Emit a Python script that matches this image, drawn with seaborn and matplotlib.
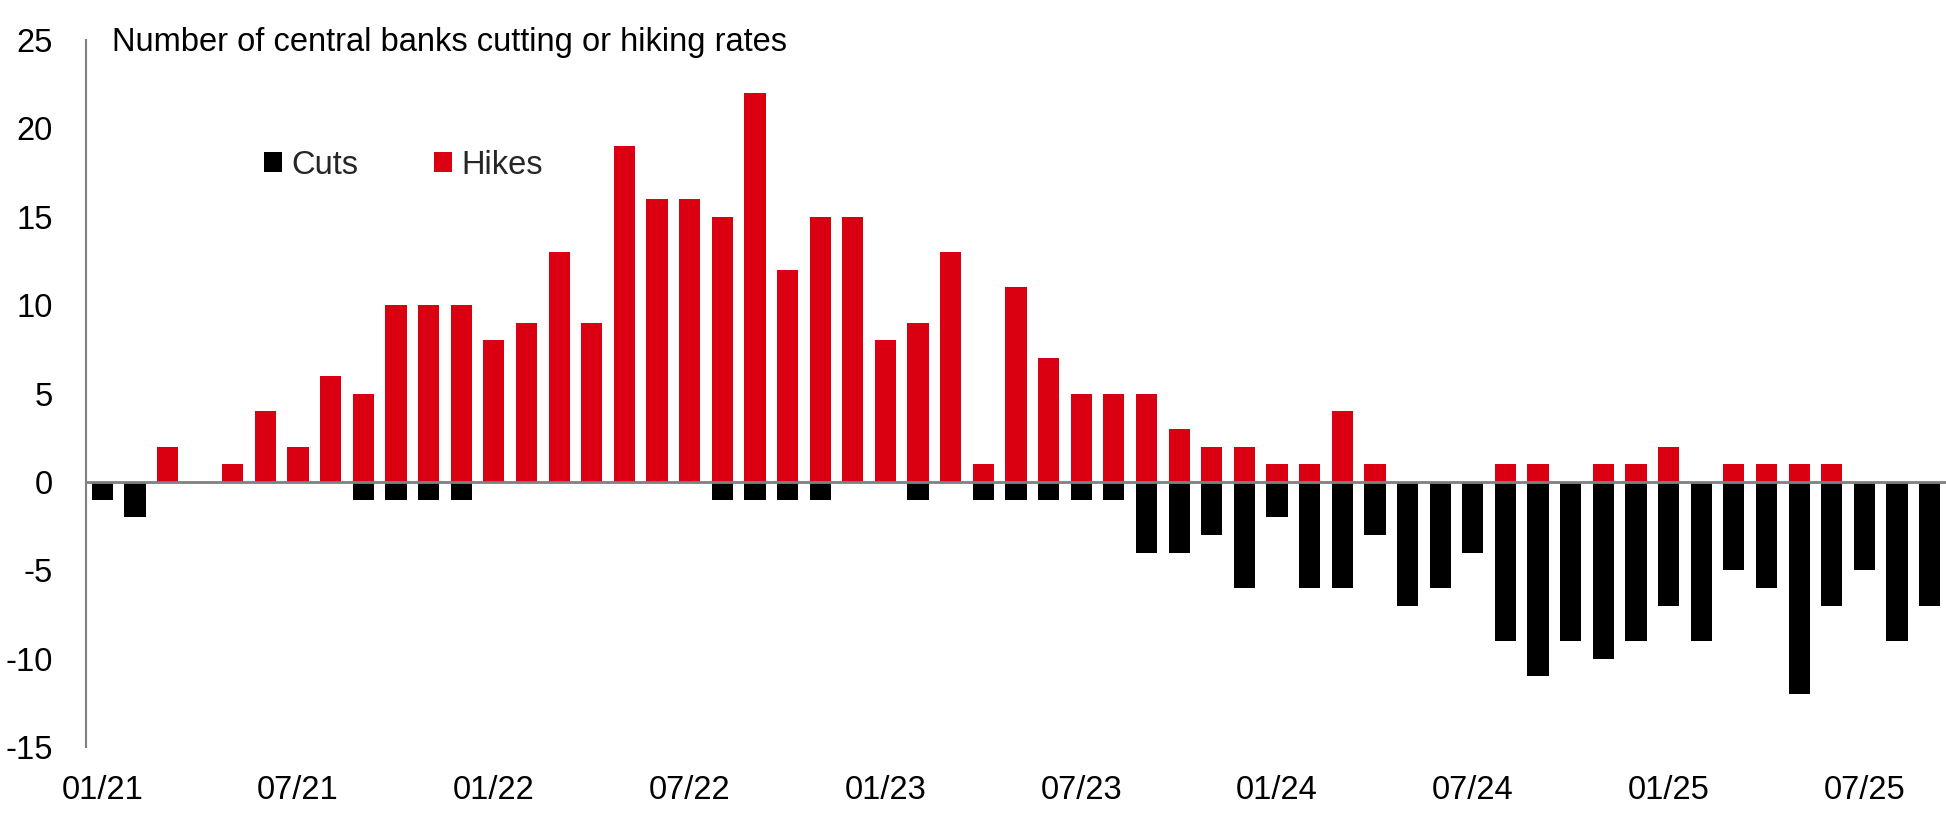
import matplotlib
matplotlib.use("Agg")
import matplotlib.pyplot as plt
from matplotlib.patches import Patch
import seaborn as sns
import pandas as pd

months = [
    "01/21", "02/21", "03/21", "04/21", "05/21", "06/21", "07/21", "08/21", "09/21", "10/21", "11/21", "12/21",
    "01/22", "02/22", "03/22", "04/22", "05/22", "06/22", "07/22", "08/22", "09/22", "10/22", "11/22", "12/22",
    "01/23", "02/23", "03/23", "04/23", "05/23", "06/23", "07/23", "08/23", "09/23", "10/23", "11/23", "12/23",
    "01/24", "02/24", "03/24", "04/24", "05/24", "06/24", "07/24", "08/24", "09/24", "10/24", "11/24", "12/24",
    "01/25", "02/25", "03/25", "04/25", "05/25", "06/25", "07/25", "08/25", "09/25",
]
hikes = [
    0, 0, 2, 0, 1, 4, 2, 6, 5, 10, 10, 10,
    8, 9, 13, 9, 19, 16, 16, 15, 22, 12, 15, 15,
    8, 9, 13, 1, 11, 7, 5, 5, 5, 3, 2, 2,
    1, 1, 4, 1, 0, 0, 0, 1, 1, 0, 1, 1,
    2, 0, 1, 1, 1, 1, 0, 0, 0,
]
cuts = [
    -1, -2, 0, 0, 0, 0, 0, 0, -1, -1, -1, -1,
    0, 0, 0, 0, 0, 0, 0, -1, -1, -1, -1, 0,
    0, -1, 0, -1, -1, -1, -1, -1, -4, -4, -3, -6,
    -2, -6, -6, -3, -7, -6, -4, -9, -11, -9, -10, -9,
    -7, -9, -5, -6, -12, -7, -5, -9, -7,
]
tick_labels = ["01/21", "07/21", "01/22", "07/22", "01/23", "07/23", "01/24", "07/24", "01/25", "07/25"]
y_ticks = [25, 20, 15, 10, 5, 0, -5, -10, -15]
title_text = "Number of central banks cutting or hiking rates"

RED = "#DB0011"
GREY = "#808080"
FS = 23.5

sns.set_theme(style="white")
plt.rcParams["font.family"] = ["Liberation Sans", "DejaVu Sans"]

df = pd.DataFrame({"month": months, "Hikes": hikes, "Cuts": cuts})

fig = plt.figure(figsize=(19.46, 8.18), dpi=100)
ax = fig.add_axes([86 / 1946, 1 - 747 / 818, 1 - 86 / 1946, (747 - 40) / 818])

sns.barplot(data=df, x="month", y="Hikes", color=RED, width=0.65, ax=ax,
            saturation=1, linewidth=0, order=months)
sns.barplot(data=df, x="month", y="Cuts", color="black", width=0.65, ax=ax,
            saturation=1, linewidth=0, order=months)

ax.axhline(0, color=GREY, lw=2, zorder=5)
ax.set_ylim(-15, 25)
ax.set_xlim(-0.5, len(months) - 0.5)
ax.set_yticks(y_ticks)
ax.set_yticklabels([str(v) for v in y_ticks])
ax.set_xticks([months.index(t) for t in tick_labels])
ax.set_xticklabels(tick_labels)
ax.set_xlabel("")
ax.set_ylabel("")
ax.tick_params(axis="both", length=0, labelsize=FS, colors="black")
ax.tick_params(axis="y", pad=24)
ax.tick_params(axis="x", pad=20)
for s in ["top", "right", "bottom"]:
    ax.spines[s].set_visible(False)
ax.spines["left"].set_color(GREY)
ax.spines["left"].set_linewidth(1.5)
ax.grid(False)

fig.text(112 / 1946, 1 - 43 / 818, title_text, fontsize=FS, va="center", ha="left", color="black")

handles = [Patch(facecolor="black", edgecolor="none", label="Cuts"),
           Patch(facecolor=RED, edgecolor="none", label="Hikes")]
fig.legend(handles=handles, loc="center left", bbox_to_anchor=(264 / 1946, 1 - 165 / 818),
           ncol=2, frameon=False, fontsize=FS, handlelength=0.55, handleheight=0.55,
           handletextpad=0.3, columnspacing=2.3, borderpad=0, borderaxespad=0)

fig.savefig("out.png", dpi=100)
